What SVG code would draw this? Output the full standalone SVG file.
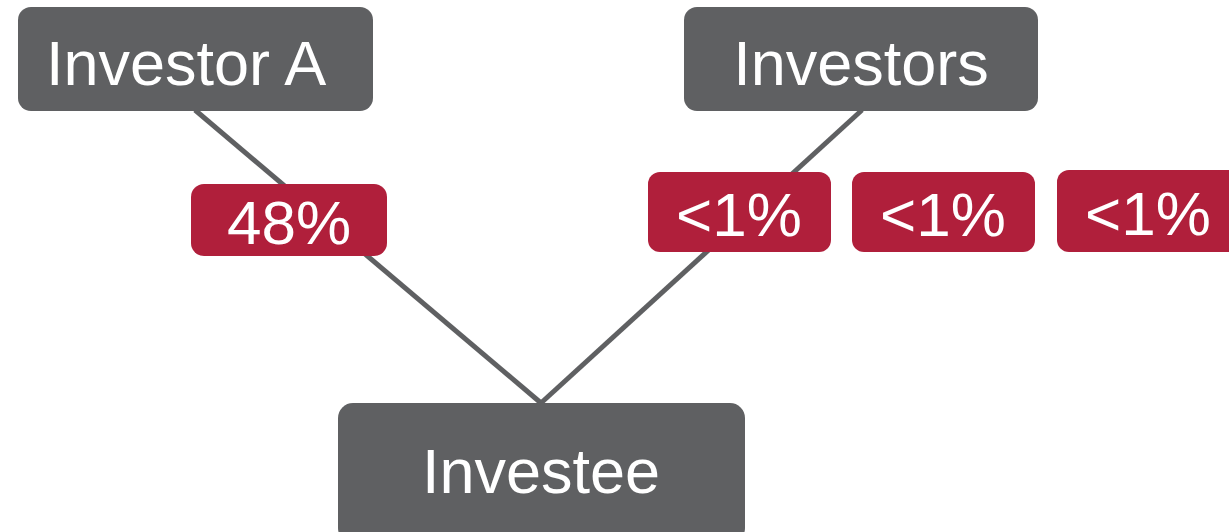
<svg xmlns="http://www.w3.org/2000/svg" width="1229" height="532" viewBox="0 0 1229 532">
<style>
.node{fill:#5f6062;}
.pct{fill:#b01f3b;}
.t{font-family:"Liberation Sans",Arial,sans-serif;fill:#ffffff;font-size:63px;}
.tp{font-family:"Liberation Sans",Arial,sans-serif;fill:#ffffff;font-size:62px;text-anchor:middle;}
.c{stroke:#5f6062;stroke-width:5;fill:none;}
</style>
<rect width="1229" height="532" fill="#ffffff"/>
<g id="connectors">
<line class="c" x1="195" y1="110" x2="541" y2="403"/>
<line class="c" x1="862" y1="110" x2="541" y2="403"/>
</g>
<g id="investor-a">
<rect class="node" x="18" y="7" width="355" height="104" rx="13"/>
<text class="t" x="46" y="85">Investor A</text>
</g>
<g id="investors">
<rect class="node" x="684" y="7" width="354" height="104" rx="13"/>
<text class="t" x="861" y="85" text-anchor="middle">Investors</text>
</g>
<g id="investee">
<rect class="node" x="338" y="403" width="407" height="140" rx="15"/>
<text class="t" x="541" y="493" text-anchor="middle">Investee</text>
</g>
<g id="label-48">
<rect class="pct" x="191" y="184" width="196" height="72" rx="13"/>
<text class="tp" x="289" y="244">48%</text>
</g>
<g id="label-1a">
<rect class="pct" x="648" y="172" width="183" height="80" rx="12"/>
<text class="tp" x="739" y="236">&lt;1%</text>
</g>
<g id="label-1b">
<rect class="pct" x="852" y="172" width="183" height="80" rx="12"/>
<text class="tp" x="943" y="236">&lt;1%</text>
</g>
<g id="label-1c">
<rect class="pct" x="1057" y="170" width="190" height="82" rx="12"/>
<text class="tp" x="1148" y="235">&lt;1%</text>
</g>
</svg>
